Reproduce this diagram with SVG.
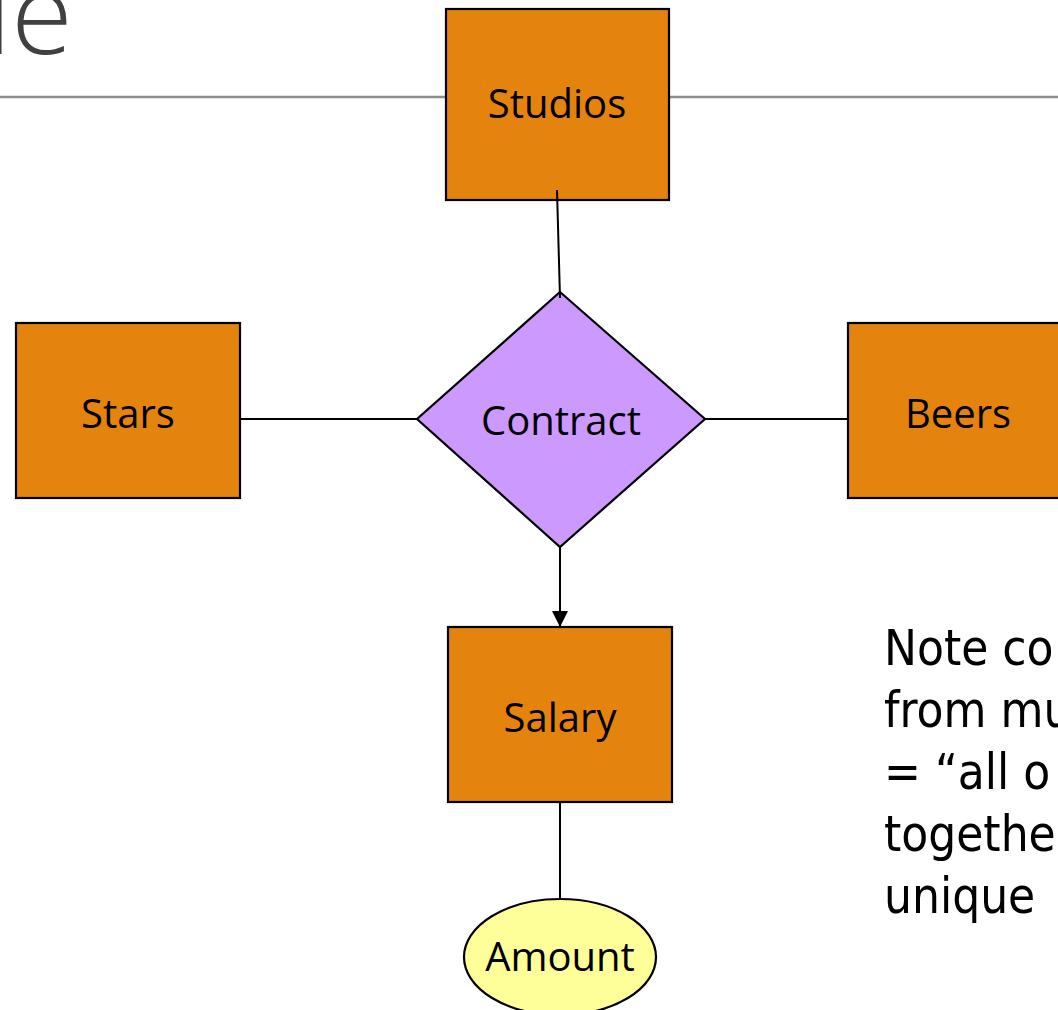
<svg xmlns="http://www.w3.org/2000/svg" width="1058" height="1010" viewBox="0 0 1058 1010">
  <defs>
    <marker id="arrow" viewBox="0 0 10 10" refX="10" refY="5" markerWidth="16" markerHeight="16" markerUnits="userSpaceOnUse" orient="auto">
      <path d="M0,0 L10,5 L0,10 Z" fill="#000"/>
    </marker>
    <style>
      .entity { fill: #E5830F; stroke: #000; stroke-width: 2.2; }
      .rel { fill: #CC99FF; stroke: #000; stroke-width: 2.2; }
      .attr { fill: #FFFF99; stroke: #000; stroke-width: 2.2; }
      .label { font-family: "Open Sans", "Noto Sans", sans-serif; font-size: 40px; fill: #000; text-anchor: middle; }
      .edge { stroke: #000; stroke-width: 2; fill: none; }
      .note { font-family: "DejaVu Sans Condensed", "DejaVu Sans", sans-serif; font-size: 49px; fill: #000; }
    </style>
  </defs>

  <rect width="1058" height="1010" fill="#fff"/>

  <!-- slide title and rule -->
  <text x="-14" y="54" font-family="Open Sans, sans-serif" font-weight="300" font-size="112" fill="#404040">le</text>
  <line x1="0" y1="97" x2="1058" y2="97" stroke="#8c8c8c" stroke-width="2.5"/>

  <!-- nodes -->
  <g id="studios">
    <rect class="entity" x="446" y="9" width="223" height="191"/>
    <text class="label" x="557" y="118">Studios</text>
  </g>
  <g id="stars">
    <rect class="entity" x="16" y="323" width="224" height="175"/>
    <text class="label" x="128" y="428">Stars</text>
  </g>
  <g id="beers">
    <rect class="entity" x="848" y="323" width="224" height="175"/>
    <text class="label" x="958" y="428">Beers</text>
  </g>
  <g id="contract">
    <polygon class="rel" points="560,292 705,419 560,547 417,419"/>
    <text class="label" x="561" y="435">Contract</text>
  </g>
  <g id="salary">
    <rect class="entity" x="448" y="627" width="224" height="175"/>
    <text class="label" x="560" y="732">Salary</text>
  </g>
  <g id="amount">
    <ellipse class="attr" cx="560" cy="957" rx="96" ry="58"/>
    <text class="label" x="560" y="971">Amount</text>
  </g>

  <!-- connectors -->
  <g id="connectors">
    <line class="edge" x1="557" y1="190" x2="560" y2="298"/>
    <line class="edge" x1="240" y1="419" x2="417" y2="419"/>
    <line class="edge" x1="705" y1="419" x2="848" y2="419"/>
    <line class="edge" x1="560" y1="547" x2="560" y2="627" marker-end="url(#arrow)"/>
    <line class="edge" x1="560" y1="802" x2="560" y2="899"/>
  </g>

  <!-- side note -->
  <g id="note">
    <text class="note" x="884" y="665">Note co</text>
    <text class="note" x="884" y="727">from mu</text>
    <text class="note" x="884" y="789">= “all o</text>
    <text class="note" x="884" y="851">togethe</text>
    <text class="note" x="884" y="913">unique</text>
  </g>
</svg>
